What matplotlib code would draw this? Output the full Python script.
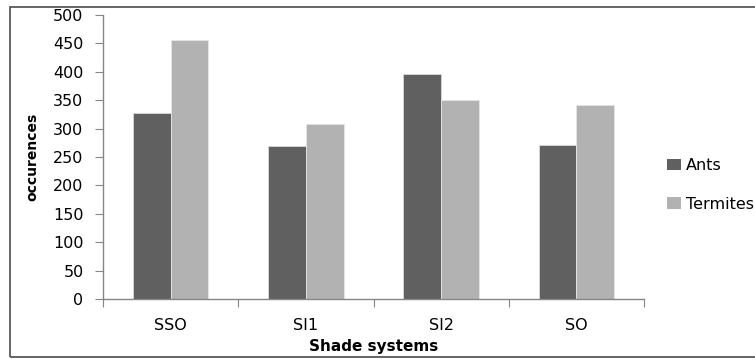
import numpy as np
import matplotlib.pyplot as plt
from matplotlib.patches import Patch, Rectangle

# ----------------------------
# Dados
# ----------------------------
categories = ["SSO", "SI1", "SI2", "SO"]
ants = [327, 269, 397, 272]
termites = [456, 308, 350, 341]
series_names = ["Ants", "Termites"]
yticks = [0, 50, 100, 150, 200, 250, 300, 350, 400, 450, 500]

ants_color = "#606060"
termites_color = "#b2b2b2"
axis_color = "#868686"

W, H = 755, 359
fig = plt.figure(figsize=(W / 100, H / 100), dpi=100)
ax = fig.add_axes([103 / W, 1 - 299 / H, (644 - 103) / W, (299 - 15) / H])

x = np.arange(len(categories))
bw = 0.28
ax.bar(x - bw / 2, ants, bw, color=ants_color, edgecolor="#d9d9d9", linewidth=0.6)
ax.bar(x + bw / 2, termites, bw, color=termites_color, edgecolor="#e6e6e6", linewidth=0.6)

ax.set_xlim(-0.5, len(categories) - 0.5)
ax.set_ylim(0, 500)

# eixo y
ax.set_yticks(yticks)
ax.tick_params(axis="y", direction="out", length=6, color=axis_color, labelsize=11.5, pad=8)

# eixo x: marcas entre categorias, rótulos no centro
ax.set_xticks(np.arange(-0.5, len(categories), 1.0))
ax.set_xticklabels([])
ax.set_xticks(x, minor=True)
ax.set_xticklabels(categories, minor=True)
ax.tick_params(axis="x", which="major", direction="out", length=6, color=axis_color)
ax.tick_params(axis="x", which="minor", length=0, labelsize=11.5, pad=14)

for s in ["top", "right"]:
    ax.spines[s].set_visible(False)
for s in ["left", "bottom"]:
    ax.spines[s].set_color(axis_color)
    ax.spines[s].set_linewidth(1.0)

ax.set_xlabel("Shade systems", fontsize=11, fontweight="bold", labelpad=4)
ax.set_ylabel("occurences", fontsize=10, fontweight="bold", labelpad=10)

# legenda
handles = [Patch(facecolor=ants_color, edgecolor="none"),
           Patch(facecolor=termites_color, edgecolor="none")]
fig.legend(handles, series_names, loc="center left",
           bbox_to_anchor=(661 / W, 1 - 185 / H), frameon=False,
           fontsize=11.5, handlelength=0.85, handleheight=0.7,
           handletextpad=0.3, labelspacing=1.45, borderaxespad=0)

# moldura do gráfico
frame = Rectangle((10 / W, 1 - 357 / H), 1.2, (357 - 7) / H,
                  transform=fig.transFigure, fill=False,
                  edgecolor="#595959", linewidth=1.3)
fig.patches.append(frame)

fig.savefig("out.png", dpi=100)
